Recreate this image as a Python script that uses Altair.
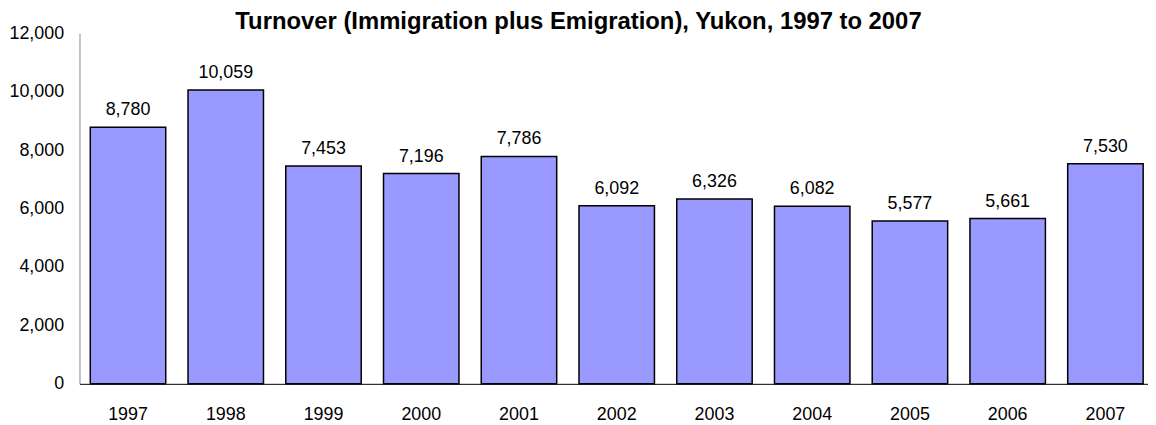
import altair as alt
import pandas as pd

years = ["1997", "1998", "1999", "2000", "2001", "2002", "2003", "2004", "2005", "2006", "2007"]
turnover = [8780, 10059, 7453, 7196, 7786, 6092, 6326, 6082, 5577, 5661, 7530]
y_ticks = [0, 2000, 4000, 6000, 8000, 10000, 12000]

df = pd.DataFrame({"year": years, "value": turnover})

FONT = "Liberation Sans"

x_enc = alt.X(
    "year:N",
    sort=years,
    title=None,
    scale=alt.Scale(paddingInner=0.228, paddingOuter=0.08, align=0.69),
    axis=alt.Axis(
        labelAngle=0,
        labelFont=FONT,
        labelFontSize=18,
        labelColor="#000000",
        labelPadding=22,
        ticks=False,
        tickSize=0,
        domainColor="#000000",
        domainWidth=1,
        grid=False,
    ),
)

y_enc = alt.Y(
    "value:Q",
    title=None,
    scale=alt.Scale(domain=[0, 12000], nice=False),
    axis=alt.Axis(
        values=y_ticks,
        format=",.0f",
        labelFont=FONT,
        labelFontSize=18,
        labelColor="#000000",
        labelPadding=16,
        ticks=False,
        tickSize=0,
        domainColor="#888888",
        domainWidth=1,
        grid=False,
    ),
)

bars = alt.Chart(df).mark_bar(
    color="#9999FF", stroke="#000000", strokeWidth=1.5
).encode(x=x_enc, y=y_enc)

labels = alt.Chart(df).mark_text(
    font=FONT, fontSize=18, color="#000000", baseline="alphabetic", dy=-12
).encode(x=alt.X("year:N", sort=years), y="value:Q", text=alt.Text("value:Q", format=",.0f"))

chart = (
    alt.layer(bars, labels)
    .properties(
        width=1076,
        height=353,
        autosize="none",
        padding={"left": 72, "top": 24, "right": 0, "bottom": 40},
        title=alt.TitleParams(
            "Turnover (Immigration plus Emigration), Yukon, 1997 to 2007",
            font=FONT,
            fontSize=24,
            fontWeight="bold",
            color="#000000",
            anchor="middle",
            frame="bounds",
            offset=0,
            dy=10,
        ),
    )
    .configure_view(stroke=None)
)

chart.save("out.html", embed_options={"renderer": "svg", "actions": False})
